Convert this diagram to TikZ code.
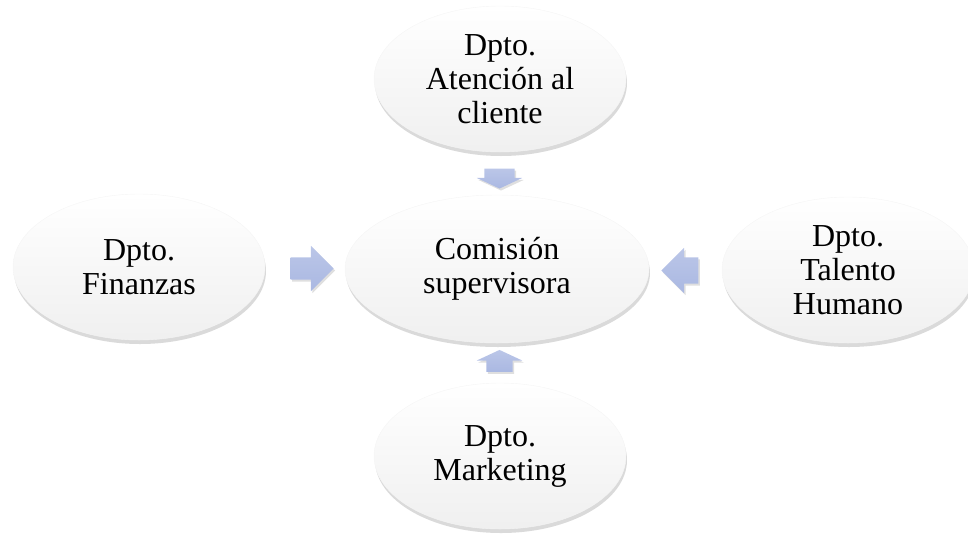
\documentclass[tikz,border=0pt]{standalone}
\usepackage{fontspec}
\setmainfont{Liberation Serif}
\usetikzlibrary{shapes.geometric,shapes.arrows,shadows}
\definecolor{flechaazul}{RGB}{170,184,226}
\definecolor{sombragris}{RGB}{150,150,150}

\begin{document}
\begin{tikzpicture}[x=1pt,y=-1pt,
		dpto/.style={ellipse,draw=gray!8,top color=white,bottom color=gray!12,
			drop shadow={shadow xshift=1pt,shadow yshift=-4pt,opacity=0.35,fill=sombragris},
			minimum width=252pt,minimum height=146pt,inner sep=0pt,align=center,
			font=\fontsize{32}{34}\selectfont},
		flecha/.style={single arrow,draw=none,top color=flechaazul!80,bottom color=flechaazul,
			drop shadow={shadow xshift=1.5pt,shadow yshift=-2pt,opacity=0.25},
			inner xsep=0pt,minimum width=45pt}]
	\useasboundingbox (0,0) rectangle (968,533);
	
	\coordinate (c_atencion) at (500,79);
	\coordinate (c_comision) at (497,269);
	\coordinate (c_finanzas) at (139,267);
	\coordinate (c_talento) at (848,270);
	\coordinate (c_marketing) at (500,456);
	
	% ellipses
	\node[dpto] (Atencion) at (c_atencion) {Dpto.\\Atención al\\cliente};
	\node[dpto,minimum width=304pt,minimum height=148pt] (Comision) at (c_comision) {Comisión\\supervisora};
	\node[dpto] (Finanzas) at (c_finanzas) {Dpto.\\Finanzas};
	\node[dpto] (Talento) at (c_talento) {Dpto.\\Talento\\Humano};
	\node[dpto] (Marketing) at (c_marketing) {Dpto.\\Marketing};
	
	% arrows
	\node[flecha,minimum height=43pt,inner ysep=11pt,single arrow head extend=11.5pt] (FlechaIzq) at (306.5,268.5) {};
	\node[flecha,minimum height=37pt,inner ysep=13pt,single arrow head extend=9.5pt,shape border rotate=180] (FlechaDer) at (686.5,270.5) {};
	\node[flecha,minimum height=20pt,inner xsep=15pt,inner ysep=0pt,single arrow head extend=7.5pt,single arrow tip angle=130,shape border rotate=270] (FlechaSup) at (499.5,175) {};
	\node[flecha,minimum height=22pt,inner xsep=13pt,inner ysep=0pt,single arrow head extend=9.5pt,single arrow tip angle=130,shape border rotate=90] (FlechaInf) at (499.5,364) {};
\end{tikzpicture}
\end{document}
